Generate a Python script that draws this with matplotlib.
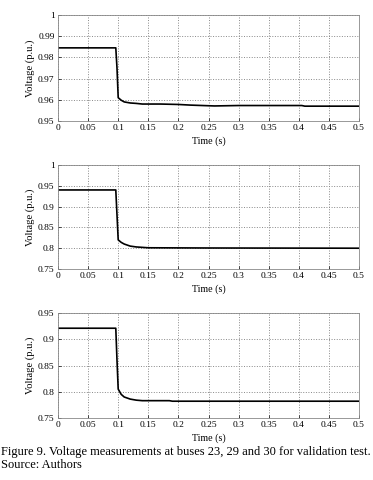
import matplotlib.pyplot as plt
import numpy as np

# time samples (s) and voltages (p.u.)
t_bus23 = [0, 0.096, 0.098, 0.1, 0.105, 0.11, 0.12, 0.13, 0.14, 0.17, 0.2, 0.22, 0.26, 0.3, 0.35, 0.405, 0.41, 0.5]
v_bus23 = [0.9845, 0.9845, 0.975, 0.961, 0.9598, 0.959, 0.9585, 0.9583, 0.958, 0.958, 0.9578, 0.9575, 0.9571, 0.9573, 0.9573, 0.9573, 0.957, 0.957]

t_bus29 = [0, 0.096, 0.098, 0.1, 0.105, 0.11, 0.12, 0.13, 0.14, 0.15, 0.25, 0.5]
v_bus29 = [0.94, 0.94, 0.88, 0.82, 0.814, 0.81, 0.805, 0.803, 0.802, 0.801, 0.8005, 0.8]

t_bus30 = [0, 0.096, 0.098, 0.1, 0.105, 0.11, 0.12, 0.13, 0.14, 0.185, 0.19, 0.5]
v_bus30 = [0.921, 0.921, 0.86, 0.805, 0.795, 0.79, 0.786, 0.784, 0.783, 0.783, 0.782, 0.782]

series = [
    (t_bus23, v_bus23, (0.95, 1.0), [0.95, 0.96, 0.97, 0.98, 0.99, 1.0], ["0.95", "0.96", "0.97", "0.98", "0.99", "1"]),
    (t_bus29, v_bus29, (0.75, 1.0), [0.75, 0.8, 0.85, 0.9, 0.95, 1.0], ["0.75", "0.8", "0.85", "0.9", "0.95", "1"]),
    (t_bus30, v_bus30, (0.75, 0.95), [0.75, 0.8, 0.85, 0.9, 0.95], ["0.75", "0.8", "0.85", "0.9", "0.95"]),
]
x_ticks = [0, 0.05, 0.1, 0.15, 0.2, 0.25, 0.3, 0.35, 0.4, 0.45, 0.5]
x_labels = ["0", "0.05", "0.1", "0.15", "0.2", "0.25", "0.3", "0.35", "0.4", "0.45", "0.5"]

plt.rcParams["font.family"] = ["Liberation Serif", "DejaVu Serif"]

W, H = 373, 480
fig = plt.figure(figsize=(W / 100, H / 100), dpi=100)

# pixel boxes (left, top, right, bottom)
boxes = [(58, 15, 359, 121), (58, 165, 359, 269), (58, 313, 359, 418)]

for (t, v, ylim, yt, ytl), (l, top, r, b) in zip(series, boxes):
    ax = fig.add_axes([l / W, 1 - b / H, (r - l) / W, (b - top) / H])
    ax.plot(t, v, color="black", lw=1.2)
    ax.set_xlim(0, 0.5)
    ax.set_ylim(*ylim)
    ax.set_xticks(x_ticks)
    ax.set_xticklabels(x_labels)
    ax.set_yticks(yt)
    ax.set_yticklabels(ytl)
    ax.grid(True, linestyle=":", color="#888888", lw=0.7)
    ax.tick_params(direction="in", labelsize=6.8, length=2, width=0.5, pad=2.5)
    for s in ax.spines.values():
        s.set_color("#888888")
        s.set_linewidth(0.6)
    ax.set_xlabel("Time (s)", fontsize=7.2, labelpad=3)
    ax.set_ylabel("Voltage (p.u.)", fontsize=7.6, labelpad=2)

fig.text(1 / W, 1 - 452 / H, "Figure 9. Voltage measurements at buses 23, 29 and 30 for validation test.",
         fontsize=9.0, va="center", ha="left")
fig.text(1 / W, 1 - 465 / H, "Source: Authors", fontsize=9.0, va="center", ha="left")

fig.savefig("out.png", dpi=100)
